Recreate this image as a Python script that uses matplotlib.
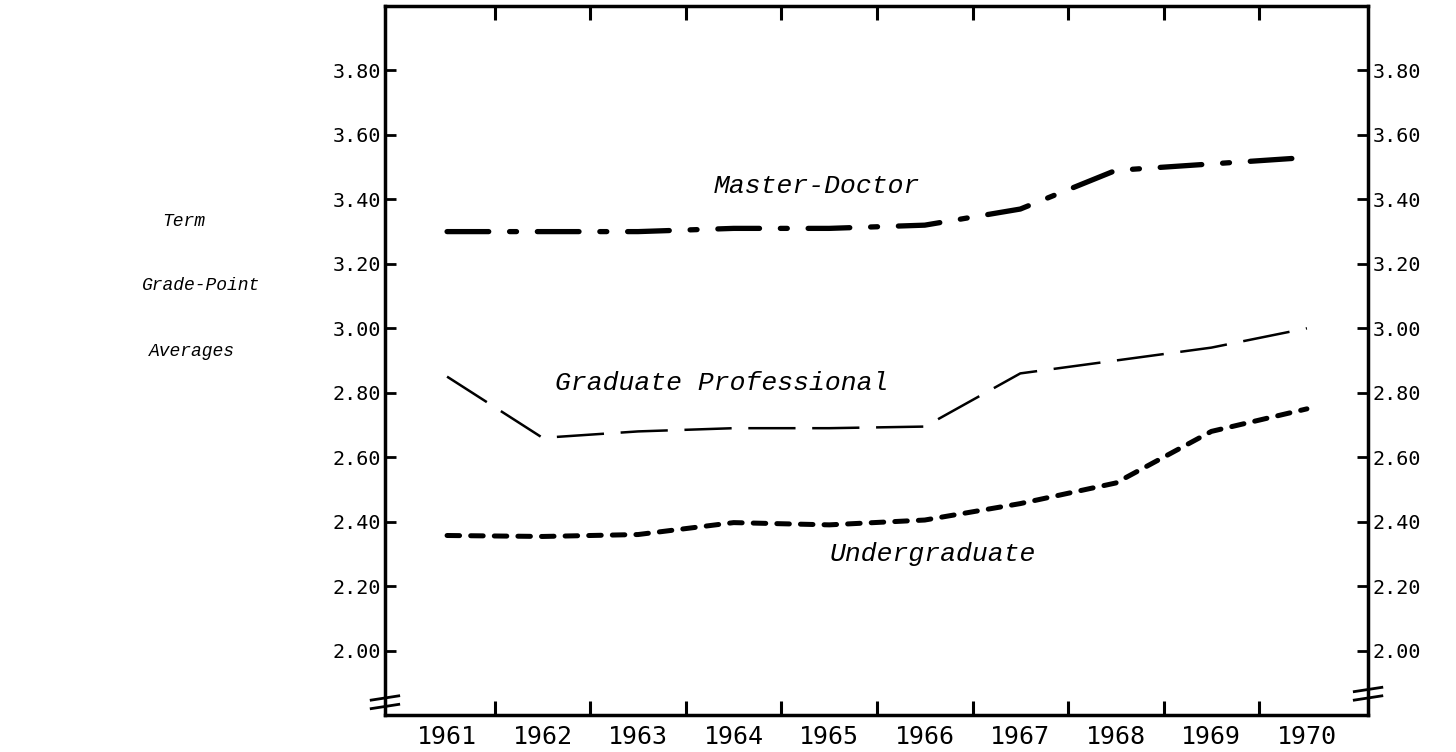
import matplotlib
matplotlib.use("Agg")
import matplotlib.pyplot as plt
from matplotlib.ticker import FixedLocator, NullFormatter

years = [1961, 1962, 1963, 1964, 1965, 1966, 1967, 1968, 1969, 1970]
year_labels = [str(y) for y in years]
master_doctor = [3.30, 3.30, 3.30, 3.31, 3.31, 3.32, 3.37, 3.49, 3.51, 3.53]
graduate_prof = [2.85, 2.66, 2.68, 2.69, 2.69, 2.695, 2.86, 2.90, 2.94, 3.00]
undergraduate = [2.357, 2.354, 2.36, 2.397, 2.39, 2.405, 2.456, 2.52, 2.68, 2.75]
y_ticks = [2.00, 2.20, 2.40, 2.60, 2.80, 3.00, 3.20, 3.40, 3.60, 3.80]
y_tick_labels = ["%.2f" % v for v in y_ticks]

plt.rcParams['lines.scale_dashes'] = False
fig = plt.figure(figsize=(14.56, 7.52), dpi=100)
ax = fig.add_axes([0.2644, 0.0492, 0.6752, 0.9428])
ax.set_xlim(1960.35, 1970.64)
ax.set_ylim(1.80, 4.00)

ax.plot(years, master_doctor, color='black', lw=3.8, dashes=(30, 15, 5, 15),
        dash_capstyle='round', solid_capstyle='round')
ax.plot(years, graduate_prof, color='black', lw=1.8, dashes=(34, 12),
        dash_capstyle='butt')
ax.plot(years, undergraduate, color='black', lw=3.6, dashes=(9, 8),
        dash_capstyle='round')

mono_it = dict(family='Liberation Mono', style='italic', color='black')
ax.text(1964.87, 3.44, 'Master-Doctor', ha='center', va='center', fontsize=19, **mono_it)
ax.text(1963.87, 2.83, 'Graduate Professional', ha='center', va='center', fontsize=19, **mono_it)
ax.text(1966.08, 2.30, 'Undergraduate', ha='center', va='center', fontsize=19, **mono_it)

fig.text(184/1456, 1-222/752, 'Term', ha='center', va='center', fontsize=13, **mono_it)
fig.text(201/1456, 1-286/752, 'Grade-Point', ha='center', va='center', fontsize=13, **mono_it)
fig.text(192/1456, 1-351/752, 'Averages', ha='center', va='center', fontsize=13, **mono_it)

# ticks
ax.set_yticks(y_ticks)
ax.set_yticklabels(y_tick_labels, family='DejaVu Sans Mono', fontsize=14.5)
ax.tick_params(axis='y', which='major', direction='in', length=8, width=2,
               left=True, right=True, labelleft=True, labelright=True, pad=3)
ax.set_xticks(years)
ax.set_xticklabels(year_labels, family='DejaVu Sans Mono', fontsize=18)
ax.tick_params(axis='x', which='major', length=0, pad=7)
ax.xaxis.set_minor_locator(FixedLocator([y + 0.5 for y in years[:-1]]))
ax.xaxis.set_minor_formatter(NullFormatter())
ax.tick_params(axis='x', which='minor', direction='in', length=10, width=2.2,
               top=True, bottom=True)
for s in ax.spines.values():
    s.set_linewidth(2.5)

# axis break marks
for xb, yb in [(0.0, 0.018), (1.0, 0.03)]:
    for dy in (-0.006, 0.006):
        ax.plot([xb - 0.014, xb + 0.014], [yb + dy - 0.003, yb + dy + 0.003],
                transform=ax.transAxes, color='black', lw=2, clip_on=False)

fig.savefig('out.png', dpi=100)
